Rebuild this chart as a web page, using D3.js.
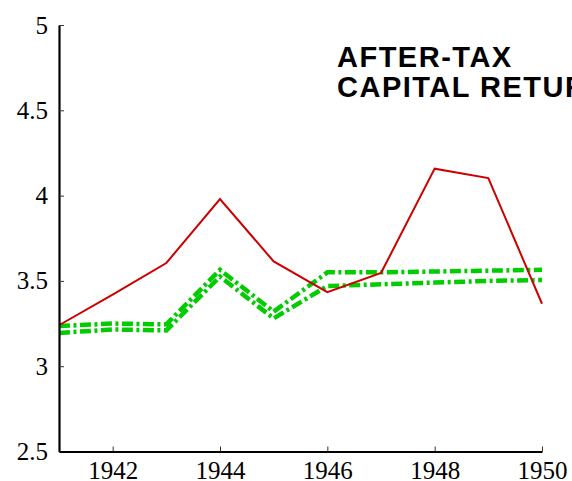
<!DOCTYPE html>
<html>
<head>
    <script src="https://d3js.org/d3.v7.min.js"></script>
    <style>
        body { margin: 0; background: #fff; }
        .axis .domain { stroke: #000; stroke-width: 2.2; }
        .axis .tick line { stroke: #333; stroke-width: 1; }
    </style>
</head>
<body>
<script>
    // data
    const years = [1941, 1942, 1943, 1944, 1945, 1946, 1947, 1948, 1949, 1950];
    const redSeries = [3.24, 3.42, 3.605, 3.98, 3.614, 3.434, 3.546, 4.158, 4.103, 3.366];
    const greenUpper = [3.235, 3.25, 3.245, 3.565, 3.32, 3.55, 3.55, 3.555, 3.56, 3.565];
    const greenLower = [3.195, 3.215, 3.21, 3.525, 3.28, 3.47, 3.48, 3.49, 3.50, 3.505];
    const xTicks = [1942, 1944, 1946, 1948, 1950];
    const yTicks = [2.5, 3, 3.5, 4, 4.5, 5];
    const titleLines = ["AFTER-TAX", "CAPITAL RETURN"];

    const svg = d3.select("body").append("svg")
        .attr("width", 572)
        .attr("height", 481);

    const xScale = d3.scaleLinear().domain([1941, 1950]).range([59, 542]);
    const yScale = d3.scaleLinear().domain([2.5, 5]).range([451.5, 25]);

    const line = d3.line()
        .x((d, i) => xScale(years[i]))
        .y(d => yScale(d));

    // green dash-dot lines
    [greenUpper, greenLower].forEach(function(s) {
        svg.append("path")
            .attr("d", line(s))
            .attr("fill", "none")
            .attr("stroke", "#00cc00")
            .attr("stroke-width", 4.5)
            .attr("stroke-dasharray", "11,3.5,3,3.5");
    });

    svg.append("path")
        .attr("d", line(redSeries))
        .attr("fill", "none")
        .attr("stroke", "#cc0000")
        .attr("stroke-width", 2);

    const yAxis = d3.axisLeft(yScale)
        .tickValues(yTicks)
        .tickFormat(d3.format("~g"))
        .tickSizeInner(-5)
        .tickSizeOuter(0)
        .tickPadding(11);
    svg.append("g")
        .attr("class", "axis")
        .attr("transform", "translate(59,0)")
        .call(yAxis);

    const xAxis = d3.axisBottom(xScale)
        .tickValues(xTicks)
        .tickFormat(d3.format("d"))
        .tickSizeInner(-5)
        .tickSizeOuter(0)
        .tickPadding(10);
    svg.append("g")
        .attr("class", "axis")
        .attr("transform", "translate(0,451.5)")
        .call(xAxis);

    // serif tick labels like the original
    svg.selectAll(".axis .tick text")
        .style("font-family", "'Liberation Serif', serif")
        .style("font-size", "25px")
        .style("fill", "#000");

    svg.append("text")
        .attr("x", 337)
        .attr("y", 66.5)
        .style("font-family", "'Liberation Sans', Arial, sans-serif")
        .style("font-weight", "bold")
        .style("font-size", "29px")
        .style("letter-spacing", "1.5px")
        .selectAll("tspan")
        .data(titleLines)
        .join("tspan")
        .attr("x", 337)
        .attr("dy", (d, i) => i === 0 ? 0 : 30)
        .text(d => d);
</script>
</body>
</html>
